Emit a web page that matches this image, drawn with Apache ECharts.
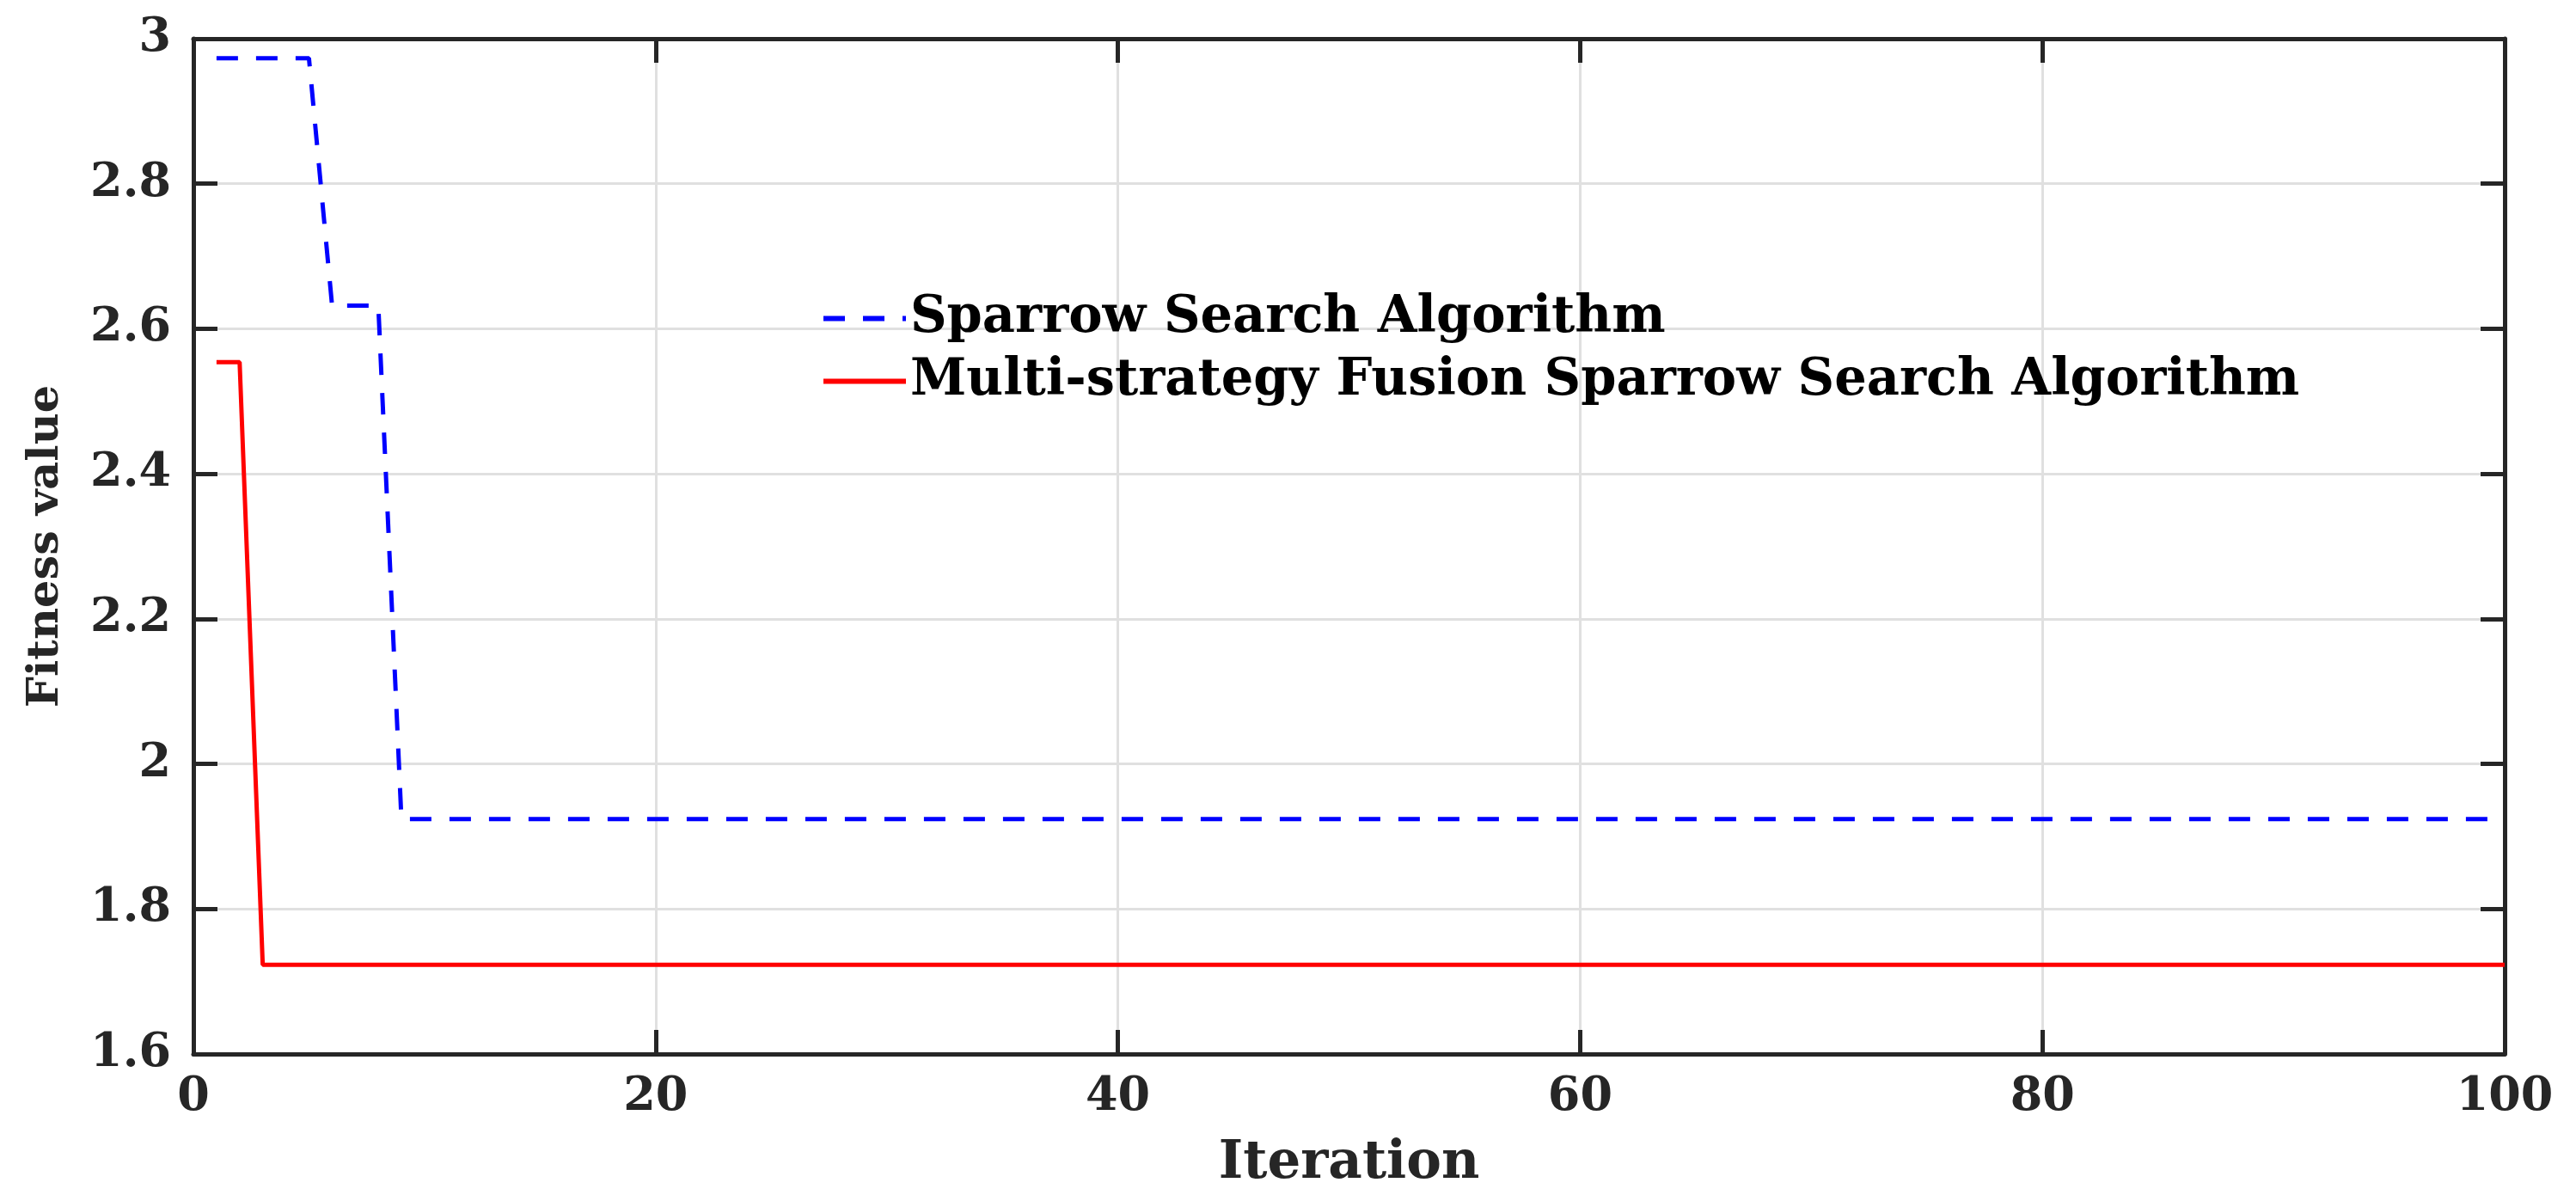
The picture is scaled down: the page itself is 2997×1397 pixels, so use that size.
<!DOCTYPE html>
<html>
<head>
<meta charset="utf-8">
<title>Fitness curves</title>
<script src="https://cdn.jsdelivr.net/npm/echarts@6/dist/echarts.min.js"></script>
<style>
    html, body { margin: 0; padding: 0; background: #fff; }
    #chart { width: 2997px; height: 1397px; }
</style>
</head>
<body>
<div id="chart"></div>
<script>
// breakpoints of the two convergence curves
var ssaName = 'Sparrow Search Algorithm'
var ssaIter = [1, 5, 6, 8, 9, 100]
var ssaFit = [2.973, 2.973, 2.632, 2.632, 1.924, 1.924]

var mfName = 'Multi-strategy Fusion Sparrow Search Algorithm'
var mfIter = [1, 2, 3, 100]
var mfFit = [2.554, 2.554, 1.723, 1.723]

var xMin = 0, xMax = 100, xStep = 20
var yMin = 1.6, yMax = 3, yStep = 0.2

function pairs(xs, ys) {
    return xs.map(function(x, i) { return [x, ys[i]] })
}

var ink = '#262626'
var font = 'DejaVu Serif'

var frameLine = { show: true, onZero: false, lineStyle: { color: ink, width: 5 } }
var innerTick = { show: true, inside: true, length: 28, lineStyle: { color: ink, width: 5 } }
var grid = { show: true, lineStyle: { color: '#e0e0e0', width: 3 } }
var tickFont = { fontFamily: font, fontWeight: 'bold', fontSize: 54, color: ink }
var nameFont = { fontFamily: font, fontWeight: 'bold', color: ink }

var chart = echarts.init(document.getElementById('chart'))

chart.setOption({
    animation: false,
    backgroundColor: '#fff',
    grid: { left: 225, right: 83, top: 45, bottom: 171 },
    legend: {
        orient: 'vertical',
        left: 950,
        top: 336,
        itemWidth: 96,
        itemHeight: 20,
        itemGap: 14,
        itemStyle: { opacity: 0 },
        lineStyle: { width: 6 },
        textStyle: { fontFamily: font, fontWeight: 'bold', fontSize: 59, color: '#000', lineHeight: 56 },
        data: [ssaName, mfName]
    },
    xAxis: [{
        type: 'value',
        position: 'bottom',
        min: xMin, max: xMax, interval: xStep,
        axisLine: frameLine,
        axisTick: innerTick,
        axisLabel: Object.assign({ margin: 24 }, tickFont),
        splitLine: grid,
        name: 'Iteration',
        nameLocation: 'middle',
        nameGap: 98,
        nameTextStyle: Object.assign({ fontSize: 61 }, nameFont)
    }, {
        type: 'value',
        position: 'top',
        min: xMin, max: xMax, interval: xStep,
        axisLine: frameLine,
        axisTick: innerTick,
        axisLabel: { show: false },
        splitLine: { show: false }
    }],
    yAxis: [{
        type: 'value',
        position: 'left',
        min: yMin, max: yMax, interval: yStep,
        axisLine: frameLine,
        axisTick: innerTick,
        axisLabel: Object.assign({ margin: 26 }, tickFont),
        splitLine: grid,
        name: 'Fitness value',
        nameLocation: 'middle',
        nameGap: 146,
        nameTextStyle: Object.assign({ fontSize: 51 }, nameFont)
    }, {
        type: 'value',
        position: 'right',
        min: yMin, max: yMax, interval: yStep,
        axisLine: frameLine,
        axisTick: innerTick,
        axisLabel: { show: false },
        splitLine: { show: false }
    }],
    series: [{
        name: ssaName,
        type: 'line',
        symbol: 'none',
        data: pairs(ssaIter, ssaFit),
        lineStyle: { color: '#0000ff', width: 5, type: [25, 21] },
        itemStyle: { color: '#0000ff' }
    }, {
        name: mfName,
        type: 'line',
        symbol: 'none',
        data: pairs(mfIter, mfFit),
        lineStyle: { color: '#ff0000', width: 5 },
        itemStyle: { color: '#ff0000' }
    }]
})
</script>
</body>
</html>
